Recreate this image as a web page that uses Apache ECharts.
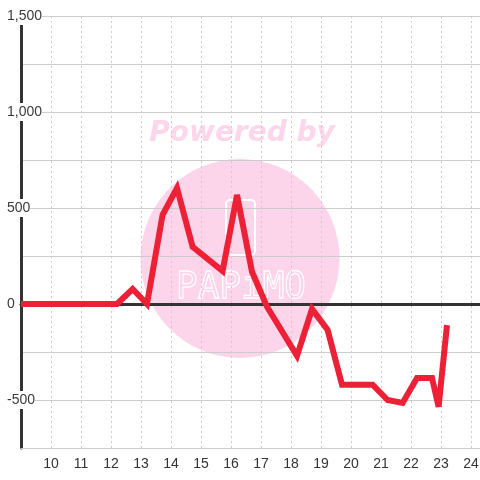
<!DOCTYPE html>
<html>
<head>
<meta charset="utf-8">
<script src="https://cdn.jsdelivr.net/npm/echarts@6/dist/echarts.min.js"></script>
<style>
html,body{margin:0;padding:0;background:#fff;}
#chart{width:480px;height:480px;}
</style>
</head>
<body>
<div id="chart"></div>
<script>
// Data
const xValues = [9.0, 12.2, 12.72, 13.2, 13.72, 14.2, 14.72, 15.72, 16.2, 16.7, 17.2, 18.2, 18.7, 19.22, 19.7, 20.72, 21.22, 21.72, 22.2, 22.7, 22.92, 23.2];
const yValues = [0, 0, 78, 0, 465, 604, 298, 172, 568, 168, -14, -270, -26, -135, -420, -420, -500, -515, -385, -385, -535, -110];
const xTickLabels = [10, 11, 12, 13, 14, 15, 16, 17, 18, 19, 20, 21, 22, 23, 24];
const yTickLabels = [-500, 0, 500, 1000, 1500];

const seriesData = xValues.map((x, i) => [x, yValues[i]]);
const fmt = v => v.toLocaleString('en-US');

const chart = echarts.init(document.getElementById('chart'), null, {renderer: 'canvas'});
chart.setOption({
  animation: false,
  backgroundColor: '#fff',
  grid: {left: 21, right: 0, top: 16, bottom: 32, containLabel: false, outerBoundsMode: 'none'},
  graphic: [
    {type: 'circle', z: -100, shape: {cx: 240, cy: 258.5, r: 99.5}, style: {fill: '#fcd5eb'}, silent: true},
    {type: 'text', z: -100, x: 242, y: 134, silent: true,
      style: {text: 'Powered by', fill: '#fdd6ec', font: 'italic bold 28px "DejaVu Sans"', align: 'center', verticalAlign: 'middle'}},
    {type: 'rect', z: -99, shape: {x: 226, y: 200, width: 29, height: 55, r: 4}, style: {fill: 'none', stroke: '#fff', lineWidth: 2}, silent: true},
    {type: 'text', z: -99, x: 241, y: 288, silent: true, scaleY: 1.05,
      style: {text: 'PAPiMO', fill: 'none', stroke: '#fff', lineWidth: 1.2, font: '36px "DejaVu Sans Mono"', align: 'center', verticalAlign: 'middle'}}
  ],
  xAxis: [
    {
      type: 'value', min: 9, max: 24.3, interval: 1, position: 'bottom',
      axisLine: {onZero: false, lineStyle: {color: '#ccc', width: 1}},
      axisTick: {show: false},
      splitLine: {show: true, lineStyle: {color: '#ccc', type: [2, 3], width: 1}},
      axisLabel: {
        color: '#333', fontSize: 14, fontFamily: 'Liberation Sans, Arial', margin: 9,
        showMinLabel: false, showMaxLabel: false,
        formatter: v => xTickLabels.includes(Math.round(v * 100) / 100) ? String(v) : ''
      }
    },
    {
      type: 'value', min: 9, max: 24.3, position: 'top',
      axisLine: {show: true, onZero: true, lineStyle: {color: '#333', width: 3}},
      axisTick: {show: false}, axisLabel: {show: false}, splitLine: {show: false}
    }
  ],
  yAxis: {
    type: 'value', min: -750, max: 1500, interval: 250,
    axisLine: {show: true, onZero: false, lineStyle: {color: '#333', width: 3}},
    axisTick: {show: false},
    splitLine: {show: true, lineStyle: {color: '#ccc', width: 1}},
    axisLabel: {
      color: '#3a3a3a', fontSize: 14, fontFamily: 'Liberation Sans, Arial',
      align: 'left', margin: 14, backgroundColor: '#fff', padding: [2, 0],
      formatter: v => yTickLabels.includes(v) ? fmt(v) : ''
    }
  },
  series: [{
    type: 'line', xAxisIndex: 0, data: seriesData, symbol: 'none', z: 5,
    lineStyle: {color: '#ee2036', width: 6, join: 'miter', miterLimit: 5}
  }]
});
</script>
</body>
</html>
